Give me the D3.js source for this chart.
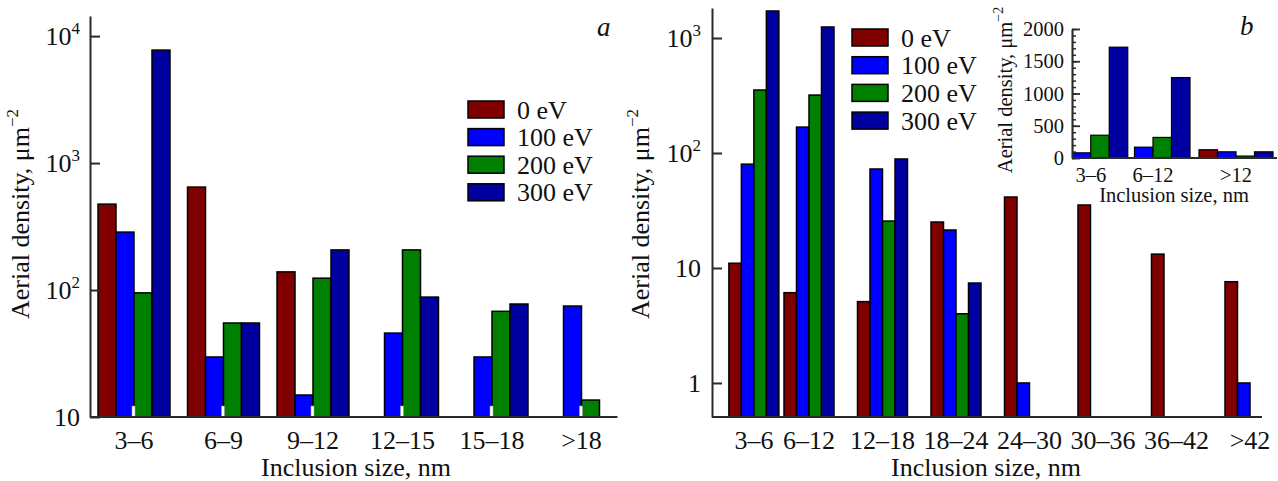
<!DOCTYPE html>
<html>
<head>
<meta charset="utf-8">
<script src="https://cdn.jsdelivr.net/npm/d3@7"></script>
<style>
body { margin: 0; background: #fff; }
svg text { fill: #111; }
</style>
</head>
<body>
<svg id="chart" width="1278" height="481"></svg>
<script>
var series = ["0 eV", "100 eV", "200 eV", "300 eV"];
var colors = ["#800000", "#0000ff", "#008000", "#0000a0"];

// panel a
var groupsA = ["3–6", "6–9", "9–12", "12–15", "15–18", ">18"];
var a0   = [475, 647, 139, null, null, null];
var a100 = [286, 29.7, 14.9, 45.8, 29.7, 74.8];
var a200 = [95, 55, 124, 207, 68, 13.6];
var a300 = [7760, 55, 207, 88, 77.6, null];
var ticksA = [10, 100, 1000, 10000];

// panel b
var groupsB = ["3–6", "6–12", "12–18", "18–24", "24–30", "30–36", "36–42", ">42"];
var b0   = [11, 6.1, 5.1, 25.1, 41.4, 35.3, 13.2, 7.6];
var b100 = [80, 168, 72.6, 21.4, 1, null, null, 1];
var b200 = [353, 319, 25.6, 4.0, null, null, null, null];
var b300 = [1718, 1247, 88.7, 7.4, null, null, null, null];
var ticksB = [1, 10, 100, 1000];

// inset of b (linear)
var groupsIn = ["3–6", "6–12", ">12"];
var in0   = [11, 6, 128];
var in100 = [80, 168, 96];
var in200 = [353, 319, 30];
var in300 = [1718, 1247, 96];
var ticksIn = [0, 500, 1000, 1500, 2000];

// the first group sits closer to the second one in b and in the inset
var slotsB = [0.25, 1, 2, 3, 4, 5, 6, 7];
var slotsIn = [0.25, 1, 2];

var serif = "'Liberation Serif', 'Times New Roman', serif";
var svg = d3.select("#chart").style("font-family", serif);
var axisColor = "#2a2a2a";
var fs = 26;

function barData(groups, vals) {
    var out = [];
    groups.forEach(function(g, i) {
        vals.forEach(function(s, j) {
            if (s[i] != null) out.push({group: g, gi: i, si: j, value: s[i]});
        });
    });
    return out;
}

function powLabel(text, v, supSize, dy) {
    text.text(null);
    var e = Math.round(Math.log10(v));
    if (e <= 1) { text.text(String(v)); return; }
    text.append("tspan").text("10");
    text.append("tspan").attr("dy", dy).style("font-size", supSize + "px").text(e);
}

function yTitle(x, y, size, supSize, dy) {
    var t = svg.append("text")
        .attr("transform", "translate(" + x + "," + y + ") rotate(-90)")
        .attr("text-anchor", "middle")
        .style("font-size", size + "px");
    t.append("tspan").text("Aerial density, μm");
    t.append("tspan").attr("dy", dy).style("font-size", supSize + "px").text("−2");
}

function legend(x, y0, step) {
    var lg = svg.append("g");
    series.forEach(function(s, i) {
        lg.append("rect")
            .attr("x", x).attr("y", y0 + i * step)
            .attr("width", 36).attr("height", 17)
            .attr("fill", colors[i]).attr("stroke", "#000").attr("stroke-width", 1.5);
        lg.append("text")
            .attr("x", x + 49).attr("y", y0 + i * step + 17.5)
            .style("font-size", fs + "px").text(s);
    });
}

// ---------- panel a ----------
var xa = d3.scaleBand().domain(groupsA).range([89.25, 626.25]).paddingInner(0.196).paddingOuter(0.098);
var xaIn = d3.scaleBand().domain(series).range([0, xa.bandwidth()]);
var ya = d3.scaleLog().domain([10, 14400]).range([417, 16]);

svg.append("g").selectAll("rect")
    .data(barData(groupsA, [a0, a100, a200, a300]))
    .join("rect")
    .attr("x", d => xa(d.group) + xaIn(series[d.si]))
    .attr("y", d => ya(d.value))
    .attr("width", xaIn.bandwidth())
    .attr("height", d => ya(10) - ya(d.value))
    .attr("fill", d => colors[d.si])
    .attr("stroke", "#000").attr("stroke-width", 1.5);

// little white marks at the base of every group
svg.append("g").selectAll("rect")
    .data(groupsA)
    .join("rect")
    .attr("x", d => xa(d) + xaIn(series[2]) - 2)
    .attr("y", 406)
    .attr("width", 3).attr("height", 11)
    .attr("fill", "#fff").attr("stroke", "#999").attr("stroke-width", 0.6);

var gya = svg.append("g").attr("transform", "translate(90,0)")
    .call(d3.axisLeft(ya).tickValues(ticksA).tickSizeInner(-10).tickSizeOuter(0).tickPadding(10));
gya.attr("font-family", serif);
gya.selectAll("path, line").attr("stroke", axisColor).attr("stroke-width", 2);
gya.selectAll("text").style("font-size", fs + "px").attr("fill", "#111")
    .each(function(d) { powLabel(d3.select(this), d, 17, -11); });

svg.append("line").attr("x1", 90).attr("x2", xa(">18") + xa.bandwidth())
    .attr("y1", 417).attr("y2", 417).attr("stroke", axisColor).attr("stroke-width", 2);

svg.append("g").selectAll("text").data(groupsA).join("text")
    .attr("x", d => xa(d) + xa.bandwidth() / 2).attr("y", 449)
    .attr("text-anchor", "middle").style("font-size", fs + "px").text(d => d);

svg.append("text").attr("x", 356).attr("y", 476).attr("text-anchor", "middle")
    .style("font-size", fs + "px").text("Inclusion size, nm");
yTitle(29, 214, fs, 17, -11);
legend(468, 101, 27.6);
svg.append("text").attr("x", 597).attr("y", 36).style("font-size", "27px")
    .style("font-style", "italic").text("a");

// ---------- panel b ----------
var xb = d3.scaleLinear().domain([0, 7]).range([735.5, 1250]);
var xbIn = d3.scaleBand().domain(series).range([-25, 25]);
var yb = d3.scaleLog().domain([0.506, 1824]).range([417, 8]);

svg.append("g").selectAll("rect")
    .data(barData(groupsB, [b0, b100, b200, b300]))
    .join("rect")
    .attr("x", d => xb(slotsB[d.gi]) + xbIn(series[d.si]))
    .attr("y", d => yb(d.value))
    .attr("width", xbIn.bandwidth())
    .attr("height", d => yb(0.506) - yb(d.value))
    .attr("fill", d => colors[d.si])
    .attr("stroke", "#000").attr("stroke-width", 1.5);

var gyb = svg.append("g").attr("transform", "translate(712,0)")
    .call(d3.axisLeft(yb).tickValues(ticksB).tickSizeInner(-10).tickSizeOuter(0).tickPadding(11));
gyb.attr("font-family", serif);
gyb.selectAll("path, line").attr("stroke", axisColor).attr("stroke-width", 2);
gyb.selectAll("text").style("font-size", fs + "px").attr("fill", "#111")
    .each(function(d) { powLabel(d3.select(this), d, 17, -11); });

svg.append("line").attr("x1", 712).attr("x2", 1262)
    .attr("y1", 417).attr("y2", 417).attr("stroke", axisColor).attr("stroke-width", 2);

svg.append("g").selectAll("text").data(groupsB).join("text")
    .attr("x", (d, i) => xb(slotsB[i])).attr("y", 449)
    .attr("text-anchor", "middle").style("font-size", fs + "px").text(d => d);

svg.append("text").attr("x", 986).attr("y", 476).attr("text-anchor", "middle")
    .style("font-size", fs + "px").text("Inclusion size, nm");
yTitle(649, 214, fs, 17, -11);
legend(852, 29, 27.7);
svg.append("text").attr("x", 1240).attr("y", 35).style("font-size", "27px")
    .style("font-style", "italic").text("b");

// ---------- inset ----------
var xi = d3.scaleLinear().domain([1, 2]).range([1153, 1236]);
var xiIn = d3.scaleBand().domain(series).range([-37, 37]);
var yi = d3.scaleLinear().domain([0, 2000]).range([158, 29]);

svg.append("clipPath").attr("id", "inclip")
    .append("rect").attr("x", 1072).attr("y", 0).attr("width", 206).attr("height", 160);

svg.append("g").attr("clip-path", "url(#inclip)").selectAll("rect")
    .data(barData(groupsIn, [in0, in100, in200, in300]))
    .join("rect")
    .attr("x", d => xi(slotsIn[d.gi]) + xiIn(series[d.si]))
    .attr("y", d => yi(d.value))
    .attr("width", xiIn.bandwidth())
    .attr("height", d => yi(0) - yi(d.value))
    .attr("fill", d => colors[d.si])
    .attr("stroke", "#000").attr("stroke-width", 1.2);

var gyiMinor = svg.append("g").attr("transform", "translate(1072,0)")
    .call(d3.axisLeft(yi).ticks(20).tickSizeInner(-4).tickSizeOuter(0).tickFormat(""));
gyiMinor.selectAll("path, line").attr("stroke", axisColor).attr("stroke-width", 1.5);

var gyi = svg.append("g").attr("transform", "translate(1072,0)")
    .call(d3.axisLeft(yi).tickValues(ticksIn).tickFormat(d3.format("d"))
        .tickSizeInner(-8).tickSizeOuter(0).tickPadding(8));
gyi.attr("font-family", serif);
gyi.selectAll("path, line").attr("stroke", axisColor).attr("stroke-width", 1.8);
gyi.selectAll("text").style("font-size", "20.5px").attr("fill", "#111");

svg.append("line").attr("x1", 1072).attr("x2", 1277)
    .attr("y1", 158).attr("y2", 158).attr("stroke", axisColor).attr("stroke-width", 2);

svg.append("g").selectAll("text").data(groupsIn).join("text")
    .attr("x", (d, i) => xi(slotsIn[i])).attr("y", 182)
    .attr("text-anchor", "middle").style("font-size", "20.5px").text(d => d);

svg.append("text").attr("x", 1174).attr("y", 202).attr("text-anchor", "middle")
    .style("font-size", "20.5px").text("Inclusion size, nm");
yTitle(1012, 90, 20.5, 14, -9);
</script>
</body>
</html>
